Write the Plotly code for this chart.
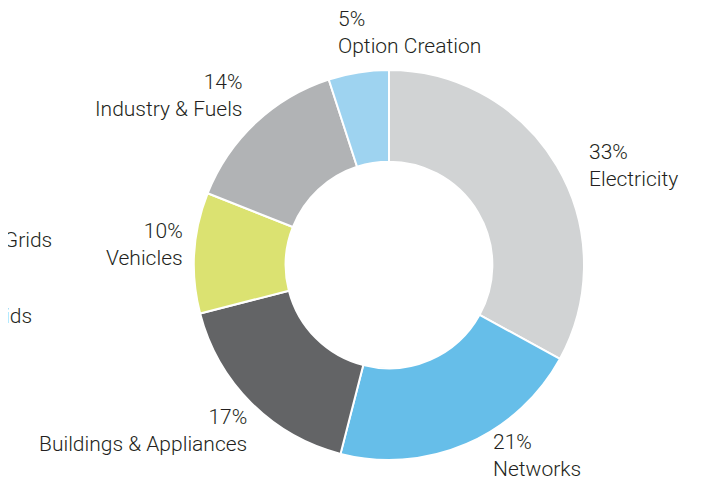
import plotly.graph_objects as go

# data
labels = ["Electricity", "Networks", "Buildings & Appliances", "Vehicles",
          "Industry & Fuels", "Option Creation"]
shares = [33, 21, 17, 10, 14, 5]
colors = ["#d1d3d4", "#66bee9", "#636466", "#dbe271", "#b1b3b5", "#9ed3f0"]

# label placement in screenshot pixels (x, y centre, anchor)
label_pos = {
    "Electricity": (587, 166, "left"),
    "Networks": (491, 455, "left"),
    "Buildings & Appliances": (249, 430, "right"),
    "Vehicles": (185, 244, "right"),
    "Industry & Fuels": (245, 95, "right"),
    "Option Creation": (336, 32, "left"),
}

W, H = 708, 482
OFF = 8  # page body margin shifts the figure by 8px
cx, cy, r = 389 - OFF, 265 - OFF, 195


def px(x, y):
    return (x - OFF) / W, 1 - (y - OFF) / H


fig = go.Figure(
    go.Pie(
        labels=labels,
        values=shares,
        marker=dict(colors=colors, line=dict(color="white", width=2)),
        hole=0.53,
        sort=False,
        direction="clockwise",
        rotation=0,
        textinfo="none",
        showlegend=False,
        domain=dict(x=[(cx - r) / W, (cx + r) / W],
                    y=[(H - cy - r) / H, (H - cy + r) / H]),
    )
)

font = dict(family="Roboto, Open Sans, sans-serif", size=21, color="#231f20",
            weight=300)

for lab, val in zip(labels, shares):
    x, y, anchor = label_pos[lab]
    ax, ay = px(x, y)
    fig.add_annotation(
        x=ax, y=ay, xref="paper", yref="paper",
        text=f"{val}%<br>{lab}", showarrow=False,
        xanchor=anchor, yanchor="middle", align=anchor, font=font,
    )

# cut-off labels from neighbouring chart at left edge
for txt, x, y in [("Smart Grids", 54, 240), ("Microgrids", 34, 316)]:
    ax, ay = px(x, y)
    fig.add_annotation(
        x=ax, y=ay, xref="paper", yref="paper",
        text=txt, showarrow=False, xanchor="right", yanchor="middle", font=font,
    )

fig.update_layout(
    width=W, height=H,
    margin=dict(l=0, r=0, t=0, b=0),
    paper_bgcolor="white",
    plot_bgcolor="white",
)

fig.write_html("out.html")
